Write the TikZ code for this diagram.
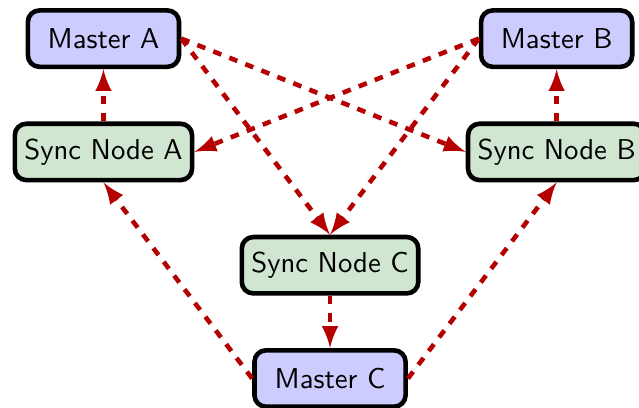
\documentclass[tikz,border=0pt]{standalone}
\usepackage{tikz}
\usetikzlibrary{arrows}

\definecolor{masterfill}{RGB}{204,204,255}
\definecolor{syncfill}{RGB}{208,230,208}
\definecolor{linkred}{RGB}{180,0,0}

\begin{document}
\begin{tikzpicture}[x=1.387cm,y=1.387cm,
    master/.style={draw,ultra thick,rounded corners,fill=masterfill,font=\sffamily,
      minimum width=1.85cm,minimum height=0.69cm},
    sync/.style={draw,ultra thick,rounded corners,fill=syncfill,font=\sffamily,
      minimum width=1.85cm,minimum height=0.69cm},
    link/.style={-latex,ultra thick,dashed,linkred}]
    \useasboundingbox (-0.913,-0.2515) rectangle (4.727,3.341);

    \node[master] (MA) at (0,3) {Master A};
    \node[master] (MB) at (4,3) {Master B};
    \node[sync] (SA) at (0,2) {Sync Node A};
    \node[sync] (SB) at (4,2) {Sync Node B};
    \node[sync] (SC) at (2,1) {Sync Node C};
    \node[master] (MC) at (2,0) {Master C};

    \foreach \from/\to in {SA/MA, SB/MB, SC/MC, MA.east/SB.west, MA.east/SC.north,
        MB.west/SA.east, MB.west/SC.north, MC.west/SA.south, MC.east/SB.south}
      \draw[link] (\from) -- (\to);
  \end{tikzpicture}
\end{document}
